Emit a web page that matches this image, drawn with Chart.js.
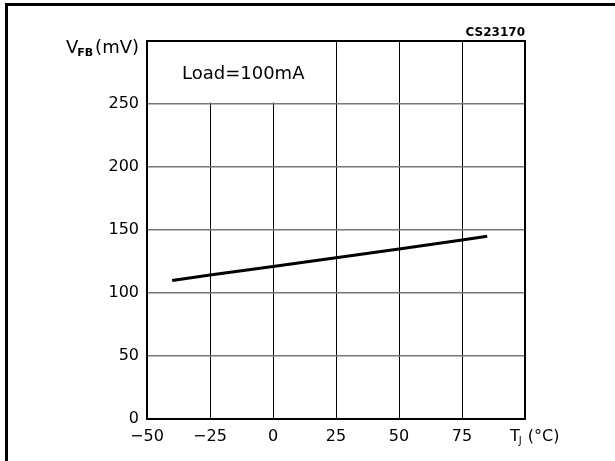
<!DOCTYPE html>
<html>
<head>
<meta charset="utf-8">
<script src="https://cdn.jsdelivr.net/npm/chart.js@4"></script>
<style>
  html, body { margin: 0; padding: 0; background: #fff; }
  #wrap { position: relative; width: 615px; height: 461px; }
</style>
</head>
<body>
<div id="wrap"><canvas id="chart" width="615" height="461"></canvas></div>
<script>
// Data
const tempC = [-40, -25, 0, 25, 50, 75, 85];
const vfbMv = [110, 114.3, 121, 128, 135, 142, 145];
const xTicks = [-50, -25, 0, 25, 50, 75, 100];
const yTicks = [0, 50, 100, 150, 200, 250, 300];
const loadLabel = 'Load=100mA';
const codeLabel = 'CS23170';

const FONT = '"DejaVu Sans", sans-serif';

// frame, label box, axis titles and plot border
const decorations = {
    id: 'decorations',
    beforeDraw(chart) {
        const ctx = chart.ctx;
        ctx.save();
        ctx.fillStyle = '#000';
        ctx.fillRect(5, 3, 610, 3);
        ctx.fillRect(5, 3, 3, 458);
        ctx.restore();
    },
    beforeDatasetsDraw(chart) {
        const ctx = chart.ctx;
        const x = chart.scales.x, y = chart.scales.y;
        const area = chart.chartArea;
        ctx.save();
        // blank box behind the load label (grid stops at 250 there)
        ctx.fillStyle = '#fff';
        ctx.fillRect(area.left, area.top, x.getPixelForValue(25) - 0.5 - area.left, y.getPixelForValue(250) - 1.5 - area.top);
        ctx.fillStyle = '#000';
        ctx.font = '18px ' + FONT;
        ctx.textBaseline = 'middle';
        ctx.textAlign = 'left';
        ctx.fillText(loadLabel, 182, (y.getPixelForValue(300) + y.getPixelForValue(250)) / 2 + 2);
        ctx.restore();
    },
    afterDraw(chart) {
        const ctx = chart.ctx;
        const area = chart.chartArea;
        ctx.save();
        ctx.strokeStyle = '#000';
        ctx.lineWidth = 2;
        ctx.strokeRect(area.left, area.top, area.right - area.left, area.bottom - area.top);

        // code label, top right
        ctx.fillStyle = '#000';
        ctx.font = 'bold 12px ' + FONT;
        ctx.textAlign = 'right';
        ctx.textBaseline = 'middle';
        ctx.fillText(codeLabel, area.right, 33);

        // y title V_FB(mV)
        ctx.textAlign = 'left';
        ctx.font = '18px ' + FONT;
        const wV = ctx.measureText('V').width;
        ctx.font = 'bold 11px ' + FONT;
        const wSub = ctx.measureText('FB').width;
        ctx.font = '18px ' + FONT;
        const wRest = ctx.measureText('(mV)').width;
        let tx = 139 - (wV + wSub + 1 + wRest);
        const ty = 48;
        ctx.fillText('V', tx, ty);
        ctx.font = 'bold 11px ' + FONT;
        ctx.fillText('FB', tx + wV - 1, ty + 5);
        ctx.font = '18px ' + FONT;
        ctx.fillText('(mV)', tx + wV + wSub + 1, ty);

        // x title T_J (°C)
        const xx = 510, xy = 437;
        ctx.font = '16px ' + FONT;
        const wT = ctx.measureText('T').width;
        ctx.fillText('T', xx, xy);
        ctx.font = '10px ' + FONT;
        const wJ = ctx.measureText('J').width;
        ctx.fillText('J', xx + wT - 1, xy + 4);
        ctx.font = '16px ' + FONT;
        ctx.fillText(' (°C)', xx + wT + wJ, xy);
        ctx.restore();
    }
};

new Chart(document.getElementById('chart'), {
    type: 'line',
    data: {
        datasets: [{
            data: tempC.map((t, i) => ({ x: t, y: vfbMv[i] })),
            borderColor: '#000',
            borderWidth: 3,
            pointRadius: 0,
            tension: 0,
            fill: false
        }]
    },
    options: {
        responsive: false,
        animation: false,
        layout: { padding: { left: 0, top: 41, right: 90, bottom: 0 } },
        plugins: { legend: { display: false }, tooltip: { enabled: false } },
        scales: {
            x: {
                type: 'linear',
                min: xTicks[0],
                max: xTicks[xTicks.length - 1],
                afterBuildTicks: (scale) => { scale.ticks = xTicks.map(v => ({ value: v })); },
                afterFit: (scale) => { scale.height = 42; },
                border: { display: false },
                grid: { color: '#000', lineWidth: 1, drawTicks: false },
                ticks: {
                    padding: 8,
                    maxRotation: 0,
                    color: '#000',
                    font: { family: FONT, size: 16 },
                    callback: (v) => v === 100 ? '' : (v < 0 ? '\u2212' + Math.abs(v) : String(v))
                }
            },
            y: {
                min: yTicks[0],
                max: yTicks[yTicks.length - 1],
                afterBuildTicks: (scale) => { scale.ticks = yTicks.map(v => ({ value: v })); },
                afterFit: (scale) => { scale.width = 147; },
                border: { display: false },
                grid: { color: '#777', lineWidth: 1.5, drawTicks: false },
                ticks: {
                    padding: 8,
                    color: '#000',
                    font: { family: FONT, size: 16 },
                    callback: (v) => v === 300 ? '' : String(v)
                }
            }
        }
    },
    plugins: [decorations]
});
</script>
</body>
</html>
